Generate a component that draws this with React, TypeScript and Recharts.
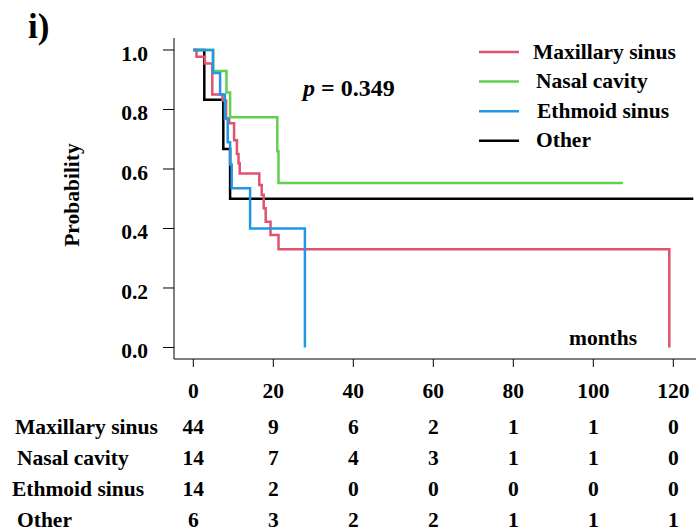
import React from 'react';
import { LineChart, Line, XAxis, YAxis, Legend } from 'recharts';

const FONT = '"Liberation Serif", "Times New Roman", serif';

const xTicks = [0, 20, 40, 60, 80, 100, 120];
const yTicks = [0, 0.2, 0.4, 0.6, 0.8, 1.0];

const seriesNames = ['Maxillary sinus', 'Nasal cavity', 'Ethmoid sinus', 'Other'];
const seriesColors = ['#DF536B', '#61D04F', '#2297E6', '#000000'];

const maxillaryMonths = [0, 0.8, 2.9, 4.75, 7.3, 8.2, 9.0, 10.2, 10.9, 11.3, 11.6, 16.5, 17.1, 17.6, 18.1, 19.3, 21.3, 119];
const maxillarySurvival = [1, 0.977, 0.955, 0.85, 0.83, 0.77, 0.754, 0.697, 0.65, 0.619, 0.585, 0.546, 0.513, 0.468, 0.423, 0.378, 0.33, 0];

const nasalMonths = [0, 5.0, 8.3, 9.2, 21.0, 21.3, 107.4];
const nasalSurvival = [1, 0.929, 0.857, 0.774, 0.66, 0.553, 0.553];

const ethmoidMonths = [0, 4.9, 6.7, 7.9, 8.6, 9.2, 9.6, 14.2, 27.9];
const ethmoidSurvival = [1, 0.923, 0.85, 0.77, 0.69, 0.615, 0.535, 0.4, 0];

const otherMonths = [0, 2.75, 7.5, 9.2, 125];
const otherSurvival = [1, 0.833, 0.667, 0.5, 0.5];

const riskMaxillary = [44, 9, 6, 2, 1, 1, 0];
const riskNasal = [14, 7, 4, 3, 1, 1, 0];
const riskEthmoid = [14, 2, 0, 0, 0, 0, 0];
const riskOther = [6, 3, 2, 2, 1, 1, 1];

const riskRows = [riskMaxillary, riskNasal, riskEthmoid, riskOther];

const pLabel = 'p';
const pValue = ' = 0.349';
const xAxisTitle = 'months';
const yAxisTitle = 'Probability';
const panelLabel = 'i)';

const toSeries = (t: number[], s: number[]) => t.map((v, i) => ({ t: v, s: s[i] }));

const maxillaryData = toSeries(maxillaryMonths, maxillarySurvival);
const nasalData = toSeries(nasalMonths, nasalSurvival);
const ethmoidData = toSeries(ethmoidMonths, ethmoidSurvival);
const otherData = toSeries(otherMonths, otherSurvival);

const FS = 21.5;
const textStyle = { fontFamily: FONT, fontWeight: 700, fontSize: FS, fill: '#000' } as const;

const rowBaselines = [434, 465, 496, 526.5];

const YTick = (props: any) => {
  const { x, y, payload } = props;
  return (
    <text x={x} y={y + 3} dy="0.35em" textAnchor="end" style={textStyle}>
      {Number(payload.value).toFixed(1)}
    </text>
  );
};

const XTick = (props: any) => {
  const { x, y, payload } = props;
  const idx = xTicks.indexOf(payload.value);
  return (
    <g>
      <text x={x} y={y} dy="0.71em" textAnchor="middle" style={textStyle}>
        {payload.value}
      </text>
      {riskRows.map((row, r) => (
        <text key={r} x={x} y={rowBaselines[r]} textAnchor="middle" style={textStyle}>
          {idx >= 0 ? row[idx] : ''}
        </text>
      ))}
    </g>
  );
};

const legendOffsets = [0, 3, 4, 3];

const renderLegend = () => (
  <svg width={226} height={125} style={{ overflow: 'visible' }}>
    {seriesNames.map((n, i) => {
      const cy = 17 + i * 29.6;
      return (
        <g key={n}>
          <line x1={9} x2={49} y1={cy} y2={cy} stroke={seriesColors[i]} strokeWidth={2.5} />
          <text x={63 + legendOffsets[i]} y={cy + 6.5} style={textStyle}>
            {n}
          </text>
        </g>
      );
    })}
  </svg>
);

const rowLabelX = [15, 17, 12, 17];

export default function App() {
  const xDomain = [-4.825, 125.675];
  const yDomain = [-0.0387, 1.0403];
  return (
    <div style={{ position: 'absolute', left: 0, top: 0, width: 696, height: 532, background: '#fff' }}>
      <LineChart
        width={696}
        height={532}
        margin={{ top: 38, right: 0, bottom: 113, left: 114 }}
      >
        <XAxis
          xAxisId="main"
          dataKey="t"
          type="number"
          domain={xDomain}
          allowDataOverflow
          ticks={xTicks}
          interval={0}
          height={60}
          tickSize={8}
          tickMargin={16}
          stroke="#000"
          tick={<XTick />}
        />
        <YAxis
          type="number"
          domain={yDomain}
          allowDataOverflow
          ticks={yTicks}
          interval={0}
          width={60}
          tickSize={11}
          tickMargin={15}
          stroke="#000"
          tick={<YTick />}
        />
        <Legend
          layout="vertical"
          align="center"
          verticalAlign="middle"
          content={renderLegend}
          wrapperStyle={{ position: 'absolute', left: 470, top: 35, width: 226, height: 125 }}
        />
        <Line xAxisId="main" data={otherData} dataKey="s" name={seriesNames[3]} type="stepAfter" stroke={seriesColors[3]} strokeWidth={2.5} dot={false} isAnimationActive={false} />
        <Line xAxisId="main" data={maxillaryData} dataKey="s" name={seriesNames[0]} type="stepAfter" stroke={seriesColors[0]} strokeWidth={2.5} dot={false} isAnimationActive={false} />
        <Line xAxisId="main" data={nasalData} dataKey="s" name={seriesNames[1]} type="stepAfter" stroke={seriesColors[1]} strokeWidth={2.5} dot={false} isAnimationActive={false} />
        <Line xAxisId="main" data={ethmoidData} dataKey="s" name={seriesNames[2]} type="stepAfter" stroke={seriesColors[2]} strokeWidth={2.5} dot={false} isAnimationActive={false} />
      </LineChart>
      <svg width={696} height={532} style={{ position: 'absolute', left: 0, top: 0, pointerEvents: 'none' }}>
        <text x={28} y={38} style={{ ...textStyle, fontSize: 35 }}>{panelLabel}</text>
        <text
          x={72}
          y={195}
          textAnchor="middle"
          dominantBaseline="central"
          transform="rotate(-90 72 195)"
          style={textStyle}
        >
          {yAxisTitle}
        </text>
        <text x={303} y={96} style={{ ...textStyle, fontSize: 24 }}>
          <tspan fontStyle="italic">{pLabel}</tspan>
          <tspan>{pValue}</tspan>
        </text>
        <text x={569} y={345} style={textStyle}>{xAxisTitle}</text>
        {seriesNames.map((n, i) => (
          <text key={n} x={rowLabelX[i]} y={rowBaselines[i]} style={textStyle}>{n}</text>
        ))}
      </svg>
    </div>
  );
}
